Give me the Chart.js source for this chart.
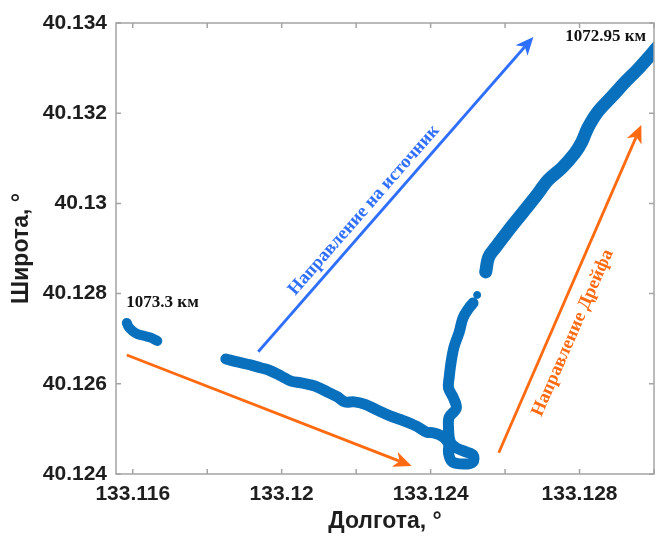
<!DOCTYPE html>
<html>
<head>
<meta charset="utf-8">
<script src="https://cdn.jsdelivr.net/npm/chart.js@4"></script>
<style>
  html, body { margin: 0; padding: 0; background: #fff; }
</style>
</head>
<body>
<canvas id="myChart" width="662" height="538"></canvas>
<script>
// track pieces (longitude / latitude, degrees)
const trackALon = [133.11584, 133.11589, 133.116, 133.11613, 133.11632, 133.1165, 133.11666];
const trackALat = [40.12735, 40.12726, 40.12717, 40.1271, 40.12706, 40.12702, 40.12695];

const trackBLon = [133.1185, 133.11884, 133.11916, 133.11945, 133.11964, 133.11999, 133.12025, 133.12052,
  133.12089, 133.12123, 133.1215, 133.12169, 133.12195, 133.12222, 133.12256, 133.12291, 133.12328,
  133.12362, 133.12389, 133.12408, 133.12434, 133.12448, 133.12448, 133.12458, 133.1249, 133.12514,
  133.12514, 133.12495, 133.12469, 133.12453, 133.12448, 133.1245, 133.12469, 133.12461, 133.12448,
  133.1245, 133.12455, 133.12463, 133.12477, 133.12487, 133.12503, 133.12514];
const trackBLat = [40.12655, 40.12648, 40.12642, 40.12635, 40.12631, 40.12617, 40.12606, 40.12602,
  40.12595, 40.12582, 40.12571, 40.1256, 40.1256, 40.12555, 40.12542, 40.12529, 40.12518,
  40.12506, 40.12493, 40.12491, 40.12482, 40.12467, 40.12447, 40.12427, 40.12422, 40.12427,
  40.12442, 40.12449, 40.12458, 40.12471, 40.12504, 40.12526, 40.12546, 40.12569, 40.12591,
  40.12615, 40.12648, 40.12682, 40.12715, 40.12746, 40.12768, 40.12779];

const strayLon = [133.12525];
const strayLat = [40.12797];

const trackCLon = [133.12548, 133.12556, 133.12575, 133.1261, 133.12647, 133.12681, 133.12716, 133.12753,
  133.12788, 133.12806, 133.12822, 133.12849, 133.12886, 133.1292, 133.12955, 133.12995, 133.13021];
const trackCLat = [40.12848, 40.12881, 40.12903, 40.12941, 40.12979, 40.13014, 40.13052, 40.13079,
  40.13112, 40.13136, 40.13167, 40.13203, 40.13236, 40.13267, 40.13296, 40.13333, 40.13358];

// arrows: [start, end]
const arrowSourceLon = [133.11937, 133.12676];
const arrowSourceLat = [40.12671, 40.13369];
const arrowDriftALon = [133.11584, 133.12349];
const arrowDriftALat = [40.12664, 40.12418];
const arrowDriftBLon = [133.12583, 133.12966];
const arrowDriftBLat = [40.12447, 40.13174];

// text notes
const noteTexts = ["1073.3 км", "1072.95 км", "Направление на источник", "Направление Дрейфа"];
const noteLon = [133.1168, 133.1287, 133.12221, 133.12782];
const noteLat = [40.12779, 40.13369, 40.12985, 40.12713];

// axes
const xTickValues = [133.116, 133.118, 133.12, 133.122, 133.124, 133.126, 133.128, 133.13];
const xTickLabels = ["133.116", "", "133.12", "", "133.124", "", "133.128", ""];
const yTickValues = [40.124, 40.126, 40.128, 40.13, 40.132, 40.134];
const yTickLabels = ["40.124", "40.126", "40.128", "40.13", "40.132", "40.134"];

const toPoints = (lon, lat) => lon.map((v, i) => ({ x: v, y: lat[i] }));

const BLUE = "#0870BD";
const SRC = "#2F6FFF";
const DRIFT = "#FF6A10";

function drawArrow(ctx, x0, y0, x1, y1, color) {
  const ang = Math.atan2(y1 - y0, x1 - x0);
  const c = Math.cos(ang), s = Math.sin(ang);
  const headLen = 18, headW = 8, notch = 13;
  ctx.strokeStyle = color;
  ctx.fillStyle = color;
  ctx.lineWidth = 2.8;
  ctx.beginPath();
  ctx.moveTo(x0, y0);
  ctx.lineTo(x1 - notch * c, y1 - notch * s);
  ctx.stroke();
  const bx = x1 - headLen * c, by = y1 - headLen * s;
  ctx.beginPath();
  ctx.moveTo(x1, y1);
  ctx.lineTo(bx - s * headW, by + c * headW);
  ctx.lineTo(x1 - notch * c, y1 - notch * s);
  ctx.lineTo(bx + s * headW, by - c * headW);
  ctx.closePath();
  ctx.fill();
}

const decor = {
  id: "decor",
  afterDatasetsDraw(chart) {
    const { ctx, chartArea: a, scales: { x, y } } = chart;
    ctx.save();

    // box and inward ticks
    ctx.strokeStyle = "#a4a4a4";
    ctx.lineWidth = 1.5;
    ctx.strokeRect(a.left, a.top, a.right - a.left, a.bottom - a.top);
    ctx.beginPath();
    xTickValues.forEach((v) => {
      const px = x.getPixelForValue(v);
      ctx.moveTo(px, a.bottom); ctx.lineTo(px, a.bottom - 5);
      ctx.moveTo(px, a.top); ctx.lineTo(px, a.top + 5);
    });
    yTickValues.forEach((v) => {
      const py = y.getPixelForValue(v);
      ctx.moveTo(a.left, py); ctx.lineTo(a.left + 5, py);
      ctx.moveTo(a.right, py); ctx.lineTo(a.right - 5, py);
    });
    ctx.stroke();

    // arrows
    const arrows = [
      [arrowSourceLon, arrowSourceLat, SRC],
      [arrowDriftALon, arrowDriftALat, DRIFT],
      [arrowDriftBLon, arrowDriftBLat, DRIFT],
    ];
    const angles = arrows.map(([lon, lat, col]) => {
      const x0 = x.getPixelForValue(lon[0]), y0 = y.getPixelForValue(lat[0]);
      const x1 = x.getPixelForValue(lon[1]), y1 = y.getPixelForValue(lat[1]);
      drawArrow(ctx, x0, y0, x1, y1, col);
      return Math.atan2(y1 - y0, x1 - x0);
    });

    // notes
    ctx.textAlign = "center";
    ctx.textBaseline = "middle";
    ctx.fillStyle = "#111";
    ctx.font = "bold 17px 'Liberation Serif', 'Times New Roman', serif";
    for (let i = 0; i < 2; i++) {
      ctx.fillText(noteTexts[i], x.getPixelForValue(noteLon[i]), y.getPixelForValue(noteLat[i]));
    }
    ctx.font = "bold 18.5px 'Liberation Serif', 'Times New Roman', serif";
    [[2, angles[0], SRC], [3, angles[2], DRIFT]].forEach(([i, ang, col]) => {
      ctx.save();
      ctx.translate(x.getPixelForValue(noteLon[i]), y.getPixelForValue(noteLat[i]));
      ctx.rotate(ang);
      ctx.fillStyle = col;
      ctx.fillText(noteTexts[i], 0, 0);
      ctx.restore();
    });

    ctx.restore();
  },
};

const tickFont = { family: "'Liberation Sans', Arial, sans-serif", size: 21, weight: "bold" };
const titleFont = { family: "'Liberation Sans', Arial, sans-serif", size: 23, weight: "bold" };

const trackStyle = { showLine: true, borderColor: BLUE, borderCapStyle: "round",
  borderJoinStyle: "round", pointRadius: 0, tension: 0.35 };

new Chart(document.getElementById("myChart").getContext("2d"), {
  type: "scatter",
  data: {
    datasets: [
      { ...trackStyle, data: toPoints(trackALon, trackALat), borderWidth: 10 },
      { ...trackStyle, data: toPoints(trackBLon, trackBLat), borderWidth: 11 },
      { data: toPoints(strayLon, strayLat), backgroundColor: BLUE, borderColor: BLUE, pointRadius: 3.5 },
      { ...trackStyle, data: toPoints(trackCLon, trackCLat), borderWidth: 13, clip: 0 },
    ],
  },
  options: {
    responsive: false,
    animation: false,
    devicePixelRatio: 1,
    layout: { padding: { top: 23, right: 2, left: 0, bottom: 0 } },
    plugins: { legend: { display: false }, tooltip: { enabled: false } },
    scales: {
      x: {
        type: "linear",
        min: 133.11555,
        max: 133.13,
        grid: { display: false, drawTicks: false },
        border: { display: false },
        afterBuildTicks: (scale) => { scale.ticks = xTickValues.map((v) => ({ value: v })); },
        afterFit: (scale) => { scale.height = 64; },
        ticks: {
          autoSkip: false, maxRotation: 0, padding: 8, color: "#1e1e1e", font: tickFont,
          callback: (v, i) => xTickLabels[i],
        },
        title: { display: true, text: "Долгота, °", color: "#1e1e1e", font: titleFont,
          padding: { top: 0, bottom: 3 } },
      },
      y: {
        type: "linear",
        min: 40.124,
        max: 40.134,
        grid: { display: false, drawTicks: false },
        border: { display: false },
        afterBuildTicks: (scale) => { scale.ticks = yTickValues.map((v) => ({ value: v })); },
        afterFit: (scale) => { scale.width = 116; },
        ticks: {
          autoSkip: false, padding: 9, color: "#1e1e1e", font: tickFont,
          callback: (v, i) => yTickLabels[i],
        },
        title: { display: true, text: "Широта, °", color: "#1e1e1e", font: titleFont,
          padding: { top: 8, bottom: 0 } },
      },
    },
  },
  plugins: [decor],
});
</script>
</body>
</html>
